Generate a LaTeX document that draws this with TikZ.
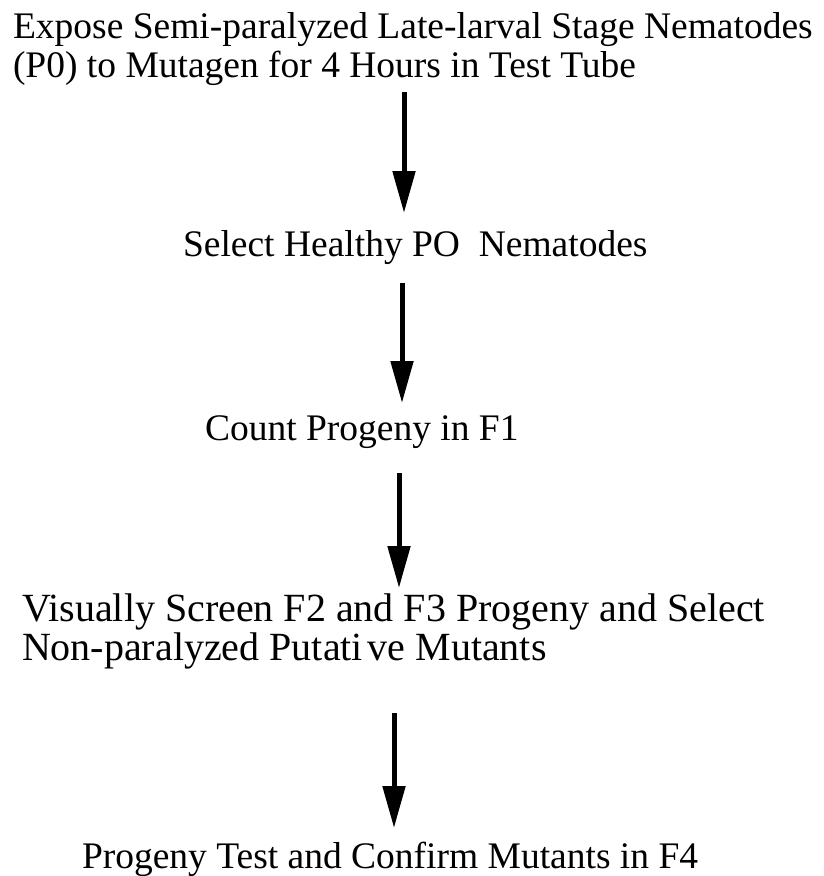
\documentclass[tikz,border=0pt]{standalone}
\usepackage{fontspec}
\setmainfont{Liberation Serif}
\usetikzlibrary{arrows.meta}

\tikzset{
  steptext/.style={anchor=base west, inner sep=0pt, outer sep=0pt,
    font=\fontsize{37.5pt}{39pt}\selectfont},
  widetext/.style={steptext, font=\fontsize{40pt}{38.5pt}\selectfont},
  flowarrow/.style={line width=5pt,
    -{Triangle[length=42pt,width=22pt]}}
}

\newcommand{\stacklines}[1]{\begin{tabular}[t]{@{}l@{}}#1\end{tabular}}

\begin{document}
\begin{tikzpicture}[x=1pt,y=-1pt]
  \useasboundingbox (0,0) rectangle (823,876);

  % process steps
  \node[steptext] (expose) at (13,38)
    {\stacklines{Expose Semi-paralyzed Late-larval Stage Nematodes\\
                 (P0) to Mutagen for 4 Hours in Test Tube}};
  \node[steptext] (select) at (183,256) {Select Healthy PO\ \ Nematodes};
  \node[steptext] (count) at (205,440) {Count Progeny in F1};
  \node[widetext] (screen) at (22,621)
    {\stacklines{Visually Screen F2 and F3 Progeny and Select\\
                 Non-paralyzed Putati\hspace{0.12em}ve Mutants}};
  \node[steptext] (confirm) at (82,868) {Progeny Test and Confirm Mutants in F4};

  % arrow end points between the steps
  \coordinate (exposeout) at (404,92);
  \coordinate (selectin)  at (404,213);
  \coordinate (selectout) at (402,283);
  \coordinate (countin)   at (402,403);
  \coordinate (countout)  at (399,473);
  \coordinate (screenin)  at (399,588);
  \coordinate (screenout) at (394,713);
  \coordinate (confirmin) at (394,828);

  \draw[flowarrow] (exposeout) -- (selectin);
  \draw[flowarrow] (selectout) -- (countin);
  \draw[flowarrow] (countout)  -- (screenin);
  \draw[flowarrow] (screenout) -- (confirmin);
\end{tikzpicture}
\end{document}
